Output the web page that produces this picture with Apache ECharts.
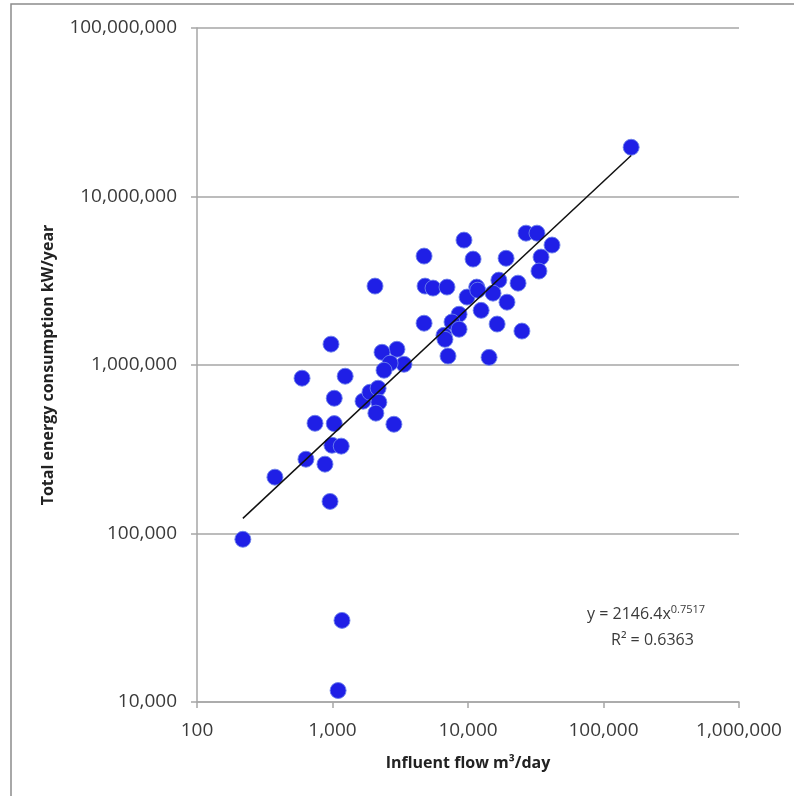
<!DOCTYPE html>
<html>
<head>
<meta charset="utf-8">
<script src="https://cdn.jsdelivr.net/npm/echarts@6/dist/echarts.min.js"></script>
<style>
  html, body { margin: 0; padding: 0; background: #fff; }
  #main { width: 794px; height: 796px; }
</style>
</head>
<body>
<div id="main"></div>
<script>
// influent flow (m3/day) and energy (kW/year)
var flow = [
  160000, 26800, 32300, 41700, 34600, 33400, 23400, 19100, 16900, 19400,
  15300, 16400, 25000, 14300, 10900, 9340, 11600, 9840, 12500, 8590,
  7620, 8590, 6650, 6760, 7120, 4740, 4820, 5520, 7000, 4740,
  2060, 2990, 3370, 975, 2320, 2660, 2400, 596, 1240, 1030,
  1680, 1890, 2170, 2200, 2090, 743, 1030, 2840, 991, 1160,
  637, 880, 376, 959, 218, 1175, 1100, 11800
];
var energy = [
  19600000, 6060000, 6060000, 5150000, 4370000, 3610000, 3060000, 4300000, 3190000, 2360000,
  2670000, 1750000, 1590000, 1110000, 4250000, 5510000, 2900000, 2530000, 2110000, 2000000,
  1800000, 1630000, 1500000, 1420000, 1130000, 4430000, 2940000, 2860000, 2900000, 1770000,
  2940000, 1240000, 1010000, 1330000, 1190000, 1025000, 931000, 835000, 858000, 635000,
  610000, 689000, 728000, 601000, 518000, 451000, 449000, 445000, 334000, 330000,
  276000, 258000, 216000, 155000, 92400, 30500, 11700, 2780000
];
var xTicks = [100, 1000, 10000, 100000, 1000000];
var yTicks = [10000, 100000, 1000000, 10000000, 100000000];

// power trendline y = a * x^b
var trendA = 2146.4;
var trendB = 0.7517;
var trendR2 = 0.6363;

var points = flow.map(function(x, i){ return [x, energy[i]]; });
var xMin = Math.min.apply(null, flow), xMax = Math.max.apply(null, flow);
var trend = [xMin, xMax].map(function(x){ return [x, trendA * Math.pow(x, trendB)]; });

function fmt(v){ return Math.round(v).toLocaleString('en-US'); }

var myChart = echarts.init(document.getElementById('main'));
var txt = '#3a3a3a';
var gridCol = '#a6a6a6';

myChart.setOption({
  animation: false,
  backgroundColor: '#fff',
  grid: { left: 197, right: 55, top: 28, bottom: 94 },
  xAxis: {
    type: 'log', logBase: 10, min: xTicks[0], max: xTicks[xTicks.length - 1], splitNumber: 4,
    name: 'Influent flow m³/day', nameLocation: 'middle', nameGap: 53,
    nameTextStyle: { fontFamily: 'Open Sans', fontSize: 16, fontWeight: 'bold', color: '#222' },
    axisLine: { show: true, lineStyle: { color: gridCol, width: 1.5 } },
    axisTick: { show: true, inside: false, length: 6, lineStyle: { color: gridCol, width: 1.5 } },
    axisLabel: { fontFamily: 'Open Sans', fontSize: 19, color: txt, margin: 19, formatter: fmt },
    splitLine: { show: false },
    minorTick: { show: false }
  },
  yAxis: {
    type: 'log', logBase: 10, min: yTicks[0], max: yTicks[yTicks.length - 1], splitNumber: 4,
    name: 'Total energy consumption kW/year', nameLocation: 'middle', nameGap: 141,
    nameTextStyle: { fontFamily: 'Open Sans', fontSize: 16, fontWeight: 'bold', color: '#222' },
    axisLine: { show: true, lineStyle: { color: gridCol, width: 1.5 } },
    axisTick: { show: true, inside: false, length: 6, lineStyle: { color: gridCol, width: 1.5 } },
    axisLabel: { fontFamily: 'Open Sans', fontSize: 19, color: txt, margin: 20, formatter: fmt },
    splitLine: { show: true, lineStyle: { color: gridCol, width: 1.5 } }
  },
  graphic: [
    { type: 'rect', shape: { x: 11, y: 4, width: 900, height: 900 },
      style: { fill: null, stroke: '#8c8c8c', lineWidth: 1.5 }, silent: true },
    { type: 'text', left: 587, top: 604,
      style: {
        text: '{b|y = ' + trendA + 'x}{s|' + trendB + '}',
        rich: {
          b: { fontFamily: 'Open Sans', fontSize: 16, fill: txt },
          s: { fontFamily: 'Open Sans', fontSize: 11, fill: txt, verticalAlign: 'top', padding: [0, 0, 10, 0] }
        }
      } },
    { type: 'text', left: 611, top: 632,
      style: { text: 'R² = ' + trendR2, fontFamily: 'Open Sans', fontSize: 16, fill: txt } }
  ],
  series: [
    {
      type: 'scatter', data: points, symbolSize: 16, z: 3,
      itemStyle: { color: '#1f1fe6', borderColor: 'rgba(110,130,235,0.9)', borderWidth: 1, opacity: 1 }
    },
    {
      type: 'line', data: trend, symbol: 'none', z: 4,
      lineStyle: { color: '#111', width: 1.5 }
    }
  ]
});
</script>
</body>
</html>
